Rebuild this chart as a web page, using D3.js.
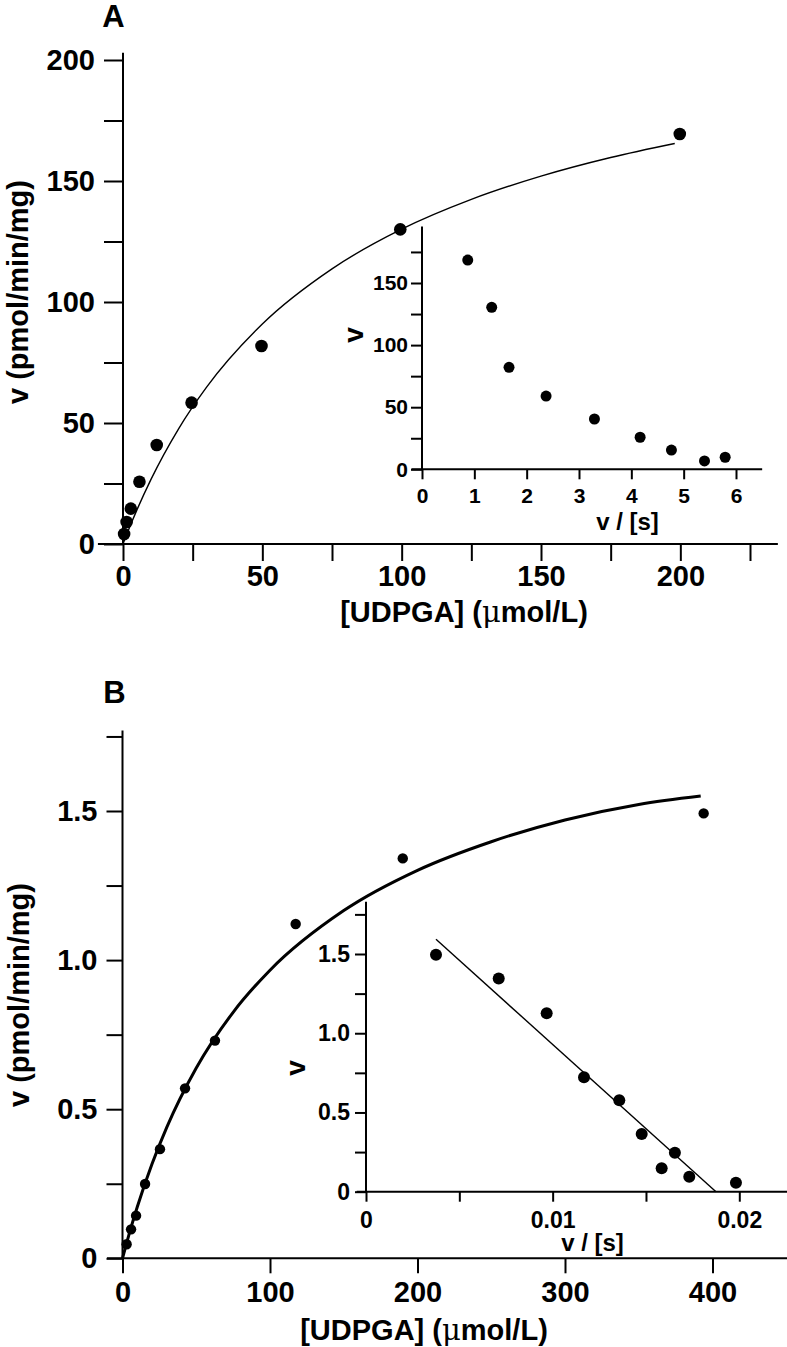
<!DOCTYPE html>
<html>
<head>
<meta charset="utf-8">
<script src="https://cdn.jsdelivr.net/npm/d3@7"></script>
<style>
  html, body { margin: 0; padding: 0; background: #fff; }
  svg { display: block; }
  text { font-family: "Liberation Sans", Arial, Helvetica, sans-serif; font-weight: bold; fill: #000; }
</style>
</head>
<body>
<svg id="chart" width="787" height="1347"></svg>
<script>
// ---------- Panel A: main (Michaelis-Menten) ----------
const aS = [0.4, 1.3, 2.8, 5.9, 12.1, 24.6, 49.7, 99.5, 199.8];
const aV = [4.1, 9.1, 14.6, 25.7, 40.9, 58.4, 81.8, 130, 169.4];
const aFitS = [0, 1, 2, 5, 10, 20, 30, 50, 75, 100, 125, 150, 175, 198];
const aFitV = [0, 3.0, 5.9, 14.1, 26.6, 47.7, 64.8, 90.9, 113.7, 130.1, 142.4, 152.0, 159.7, 165.5];
const aXTicks = [0, 25, 50, 75, 100, 125, 150, 175, 200, 225];
const aXLabels = [0, 50, 100, 150, 200];
const aYTicks = [0, 25, 50, 75, 100, 125, 150, 175, 200];
const aYLabels = [0, 50, 100, 150, 200];

// ---------- Panel A: inset (Eadie-Hofstee) ----------
const aInX = [0.874, 1.332, 1.663, 2.371, 3.295, 4.168, 4.766, 5.398, 5.793];
const aInY = [168.5, 130.4, 82.1, 59.0, 40.5, 25.8, 15.5, 6.7, 9.7];
const aInXTicks = [0, 1, 2, 3, 4, 5, 6];
const aInXLabels = [0, 1, 2, 3, 4, 5, 6];
const aInYTicks = [0, 25, 50, 75, 100, 125, 150, 175];
const aInYLabels = [0, 50, 100, 150];

// ---------- Panel B: main ----------
const bS = [2.8, 5.8, 9.2, 15.3, 25.4, 42.4, 62.7, 117.4, 190, 394];
const bV = [0.047, 0.097, 0.143, 0.249, 0.366, 0.570, 0.730, 1.121, 1.341, 1.492];
const bFitS = [0, 2, 5, 10, 20, 30, 50, 75, 100, 150, 200, 250, 300, 350, 392];
const bFitV = [0, 0.037, 0.090, 0.172, 0.316, 0.439, 0.638, 0.825, 0.966, 1.166, 1.301, 1.397, 1.470, 1.522, 1.550];
const bXTicks = [0, 100, 200, 300, 400];
const bXLabels = [0, 100, 200, 300, 400];
const bYTicks = [0, 0.25, 0.5, 0.75, 1.0, 1.25, 1.5, 1.75];
const bYLabels = [0, 0.5, 1.0, 1.5];

// ---------- Panel B: inset ----------
const bInX = [0.00375, 0.00711, 0.00968, 0.01168, 0.01357, 0.01477, 0.01655, 0.01584, 0.01732, 0.01982];
const bInY = [1.496, 1.345, 1.126, 0.722, 0.577, 0.364, 0.246, 0.148, 0.095, 0.057];
const bInLineX = [0.00375, 0.01875];
const bInLineY = [1.593, 0];
const bInXTicks = [0, 0.005, 0.01, 0.015, 0.02];
const bInXLabels = [0, 0.01, 0.02];
const bInYTicks = [0, 0.25, 0.5, 0.75, 1.0, 1.25, 1.5, 1.75];
const bInYLabels = [0, 0.5, 1.0, 1.5];

const svg = d3.select("#chart");
const zip = (xs, ys) => xs.map((x, i) => [x, ys[i]]);

function panel(cfg) {
  const g = svg.append("g");
  const x = d3.scaleLinear().domain(cfg.xDom).range(cfg.xRange);
  const y = d3.scaleLinear().domain(cfg.yDom).range(cfg.yRange);

  // x axis
  const xAxis = d3.axisBottom(x)
    .tickValues(cfg.xTicks)
    .tickSize(cfg.xTickLen)
    .tickPadding(cfg.xPad)
    .tickSizeOuter(0)
    .tickFormat(d => cfg.xLabels.some(v => Math.abs(v - d) < 1e-12) ? cfg.xFmt(d) : "");
  const gx = g.append("g").attr("transform", `translate(0,${y(0)})`).call(xAxis);
  gx.select(".domain").remove();
  gx.selectAll(".tick line").attr("stroke", "#000").attr("stroke-width", 2);
  gx.selectAll(".tick text").attr("font-size", cfg.tickFont).attr("font-family", null).attr("fill", "#000");
  g.append("line")
    .attr("x1", x(cfg.xExt[0])).attr("x2", x(cfg.xExt[1]))
    .attr("y1", y(0)).attr("y2", y(0))
    .attr("stroke", "#000").attr("stroke-width", 2);

  // y axis
  const yAxis = d3.axisLeft(y)
    .tickValues(cfg.yTicks)
    .tickSize(cfg.yTickLen)
    .tickPadding(cfg.yPad)
    .tickSizeOuter(0)
    .tickFormat(d => cfg.yLabels.some(v => Math.abs(v - d) < 1e-12) ? cfg.yFmt(d) : "");
  const gy = g.append("g").attr("transform", `translate(${x(0)},0)`).call(yAxis);
  gy.select(".domain").remove();
  gy.selectAll(".tick line").attr("stroke", "#000").attr("stroke-width", 2);
  gy.selectAll(".tick text").attr("font-size", cfg.tickFont).attr("font-family", null).attr("fill", "#000");
  g.append("line")
    .attr("x1", x(0)).attr("x2", x(0))
    .attr("y1", y(0)).attr("y2", y(cfg.yExt))
    .attr("stroke", "#000").attr("stroke-width", 2);

  // fit line
  if (cfg.fit) {
    g.append("path")
      .datum(cfg.fit)
      .attr("fill", "none")
      .attr("stroke", "#000")
      .attr("stroke-width", cfg.fitWidth)
      .attr("d", d3.line().x(d => x(d[0])).y(d => y(d[1])).curve(cfg.fitCurve || d3.curveLinear));
  }

  // points
  g.selectAll("circle.pt")
    .data(cfg.points)
    .join("circle")
    .attr("class", "pt")
    .attr("cx", d => x(d[0]))
    .attr("cy", d => y(d[1]))
    .attr("r", cfg.r)
    .attr("fill", "#000");

  return { g, x, y };
}

const fmtInt = d => d3.format("d")(d);
const fmt1 = d => d === 0 ? "0" : d3.format(".1f")(d);
const fmt2 = d => d === 0 ? "0" : d3.format(".2f")(d);

// Panel A main
panel({
  xDom: [0, 225], xRange: [123, 750], xExt: [-9, 235],
  yDom: [0, 200], yRange: [544, 60], yExt: 203,
  xTicks: aXTicks, xLabels: aXLabels, xFmt: fmtInt, xTickLen: 17, xPad: 4,
  yTicks: aYTicks, yLabels: aYLabels, yFmt: fmtInt, yTickLen: 19, yPad: 9,
  tickFont: 29,
  fit: zip(aFitS, aFitV), fitWidth: 1.4, fitCurve: d3.curveMonotoneX,
  points: zip(aS, aV), r: 6.3
});

// Panel A inset
panel({
  xDom: [0, 6], xRange: [422, 736], xExt: [-0.2, 6.5],
  yDom: [0, 150], yRange: [469.3, 283], yExt: 195.5,
  xTicks: aInXTicks, xLabels: aInXLabels, xFmt: fmtInt, xTickLen: 10, xPad: 9,
  yTicks: aInYTicks, yLabels: aInYLabels, yFmt: fmtInt, yTickLen: 11, yPad: 3,
  tickFont: 21,
  fit: null,
  points: zip(aInX, aInY), r: 5.5
});

// Panel B main
panel({
  xDom: [0, 400], xRange: [122.5, 712.5], xExt: [-10.5, 452],
  yDom: [0, 1.5], yRange: [1258.3, 811], yExt: 1.77,
  xTicks: bXTicks, xLabels: bXLabels, xFmt: fmtInt, xTickLen: 15, xPad: 8,
  yTicks: bYTicks, yLabels: bYLabels, yFmt: fmt1, yTickLen: 16, yPad: 9,
  tickFont: 29,
  fit: zip(bFitS, bFitV), fitWidth: 3, fitCurve: d3.curveMonotoneX,
  points: zip(bS, bV), r: 5.2
});

// Panel B inset
panel({
  xDom: [0, 0.02], xRange: [366, 739.3], xExt: [-0.0005, 0.0226],
  yDom: [0, 1.5], yRange: [1191.7, 954], yExt: 1.83,
  xTicks: bInXTicks, xLabels: bInXLabels, xFmt: fmt2, xTickLen: 10, xPad: 10,
  yTicks: bInYTicks, yLabels: bInYLabels, yFmt: fmt1, yTickLen: 11, yPad: 5,
  tickFont: 23,
  fit: zip(bInLineX, bInLineY), fitWidth: 1.4,
  points: zip(bInX, bInY), r: 6
});

// ---------- Text labels ----------
function xTitle(x, y, size) {
  const t = svg.append("text").attr("x", x).attr("y", y).attr("text-anchor", "middle").attr("font-size", size);
  t.append("tspan").text("[UDPGA] (");
  t.append("tspan").attr("font-weight", "normal").attr("font-family", "'DejaVu Serif', 'Liberation Serif', serif").text("\u03bc");
  t.append("tspan").text("mol/L)");
}
function yTitle(x, y, size, str) {
  svg.append("text")
    .attr("transform", `translate(${x},${y}) rotate(-90)`)
    .attr("text-anchor", "middle")
    .attr("font-size", size)
    .text(str);
}

// Panel letters
svg.append("text").attr("x", 113.5).attr("y", 27).attr("text-anchor", "middle").attr("font-size", 31).text("A");
svg.append("text").attr("x", 114.5).attr("y", 703).attr("text-anchor", "middle").attr("font-size", 31).text("B");

// Panel A titles
xTitle(464, 622, 29);
yTitle(28, 292, 29, "v (pmol/min/mg)");
svg.append("text").attr("x", 627.5).attr("y", 530).attr("text-anchor", "middle").attr("font-size", 24).text("v / [s]");
yTitle(363, 335, 28, "v");

// Panel B titles
xTitle(424, 1340, 29);
yTitle(29, 995, 29, "v (pmol/min/mg)");
svg.append("text").attr("x", 592.5).attr("y", 1251).attr("text-anchor", "middle").attr("font-size", 24).text("v / [s]");
yTitle(305, 1068, 28, "v");
</script>
</body>
</html>
